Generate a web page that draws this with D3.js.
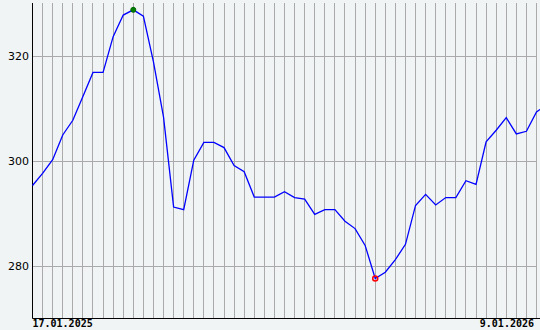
<!DOCTYPE html>
<html>
<head>
<meta charset="utf-8">
<script src="https://cdn.jsdelivr.net/npm/d3@7"></script>
<style>
  body { margin: 0; background: #f0f4f5; }
  svg { display: block; }
</style>
</head>
<body>
<div id="chart"></div>
<script>
// weekly closes, first and last date shown on the axis
var startDate = "17.01.2025",
    endDate = "9.01.2026";
var values = [
    295.3, 297.6, 300.2, 304.9, 307.7, 312.2, 316.8, 316.8, 323.6, 327.7,
    328.7, 327.5, 318.8, 308.3, 291.2, 290.7, 300.1, 303.5, 303.5, 302.5,
    299.1, 297.9, 293.1, 293.1, 293.1, 294.1, 293.0, 292.7, 289.8, 290.7,
    290.7, 288.5, 287.1, 283.9, 277.6, 278.8, 281.2, 284.1, 291.5, 293.6,
    291.6, 293.0, 293.0, 296.2, 295.5, 303.6, 305.8, 308.2, 305.1, 305.6,
    309.3, 310.6
];
var yTicks = [280, 300, 320];
var yDomain = [270, 330];

var parseDate = d3.timeParse("%d.%m.%Y");
var t0 = parseDate(startDate);
// one point per week
var dates = values.map(function(v, i) { return d3.timeDay.offset(t0, i * 7); });
var data = values.map(function(v, i) { return { date: dates[i], value: v }; });

var w = 540, h = 330;
var plotLeft = 32.5, plotTop = 3, plotBottom = 318.5;

var x = d3.scaleTime()
    .domain([t0, parseDate(endDate)])
    .range([plotLeft, plotLeft + 51 * 10.08]);
var y = d3.scaleLinear()
    .domain(yDomain)
    .range([plotBottom, plotTop]);

var svg = d3.select("#chart")
    .append("svg")
    .attr("width", w)
    .attr("height", h);

svg.append("rect")
    .attr("width", w)
    .attr("height", h)
    .attr("fill", "#f0f4f5");

// vertical grid, one line per week
svg.append("g")
    .selectAll("line")
    .data(dates.slice(1))
    .enter().append("line")
    .attr("x1", function(d) { return Math.floor(x(d)) + 0.5; })
    .attr("x2", function(d) { return Math.floor(x(d)) + 0.5; })
    .attr("y1", plotTop)
    .attr("y2", plotBottom)
    .attr("stroke", "#aaaaaa")
    .attr("stroke-width", 1);

// horizontal grid
svg.append("g")
    .selectAll("line")
    .data(yTicks)
    .enter().append("line")
    .attr("x1", plotLeft)
    .attr("x2", 537)
    .attr("y1", function(d) { return Math.round(y(d)) + 0.5; })
    .attr("y2", function(d) { return Math.round(y(d)) + 0.5; })
    .attr("stroke", "#aaaaaa")
    .attr("stroke-width", 1);

// y labels
svg.append("g")
    .selectAll("text")
    .data(yTicks)
    .enter().append("text")
    .attr("x", 29)
    .attr("y", function(d) { return y(d) + 4; })
    .attr("text-anchor", "end")
    .attr("font-family", "DejaVu Sans")
    .attr("font-size", "11px")
    .attr("fill", "#000")
    .text(function(d) { return d; });

// axes
svg.append("line")
    .attr("x1", plotLeft).attr("x2", plotLeft)
    .attr("y1", plotTop).attr("y2", plotBottom)
    .attr("stroke", "#000").attr("stroke-width", 1);
svg.append("line")
    .attr("x1", plotLeft).attr("x2", w)
    .attr("y1", plotBottom).attr("y2", plotBottom)
    .attr("stroke", "#000").attr("stroke-width", 1);

// date labels
svg.append("text")
    .attr("x", plotLeft)
    .attr("y", 327)
    .attr("font-family", "DejaVu Sans Mono")
    .attr("font-size", "10px")
    .attr("font-weight", "bold")
    .attr("fill", "#000")
    .text(startDate);
svg.append("text")
    .attr("x", 534)
    .attr("y", 327)
    .attr("text-anchor", "end")
    .attr("font-family", "DejaVu Sans Mono")
    .attr("font-size", "10px")
    .attr("font-weight", "bold")
    .attr("fill", "#000")
    .text(endDate);

// price line
var line = d3.line()
    .x(function(d) { return x(d.date); })
    .y(function(d) { return y(d.value); });

svg.append("path")
    .datum(data)
    .attr("d", line)
    .attr("fill", "none")
    .attr("stroke", "#0000ff")
    .attr("stroke-width", 1.3);

// max / min markers
var maxPt = data[d3.maxIndex(values)],
    minPt = data[d3.minIndex(values)];

svg.append("circle")
    .attr("cx", x(maxPt.date))
    .attr("cy", y(maxPt.value))
    .attr("r", 2.5)
    .attr("fill", "#008000")
    .attr("stroke", "#006400")
    .attr("stroke-width", 1);

svg.append("circle")
    .attr("cx", x(minPt.date))
    .attr("cy", y(minPt.value))
    .attr("r", 2.5)
    .attr("fill", "none")
    .attr("stroke", "#ff0000")
    .attr("stroke-width", 1.5);
</script>
</body>
</html>
